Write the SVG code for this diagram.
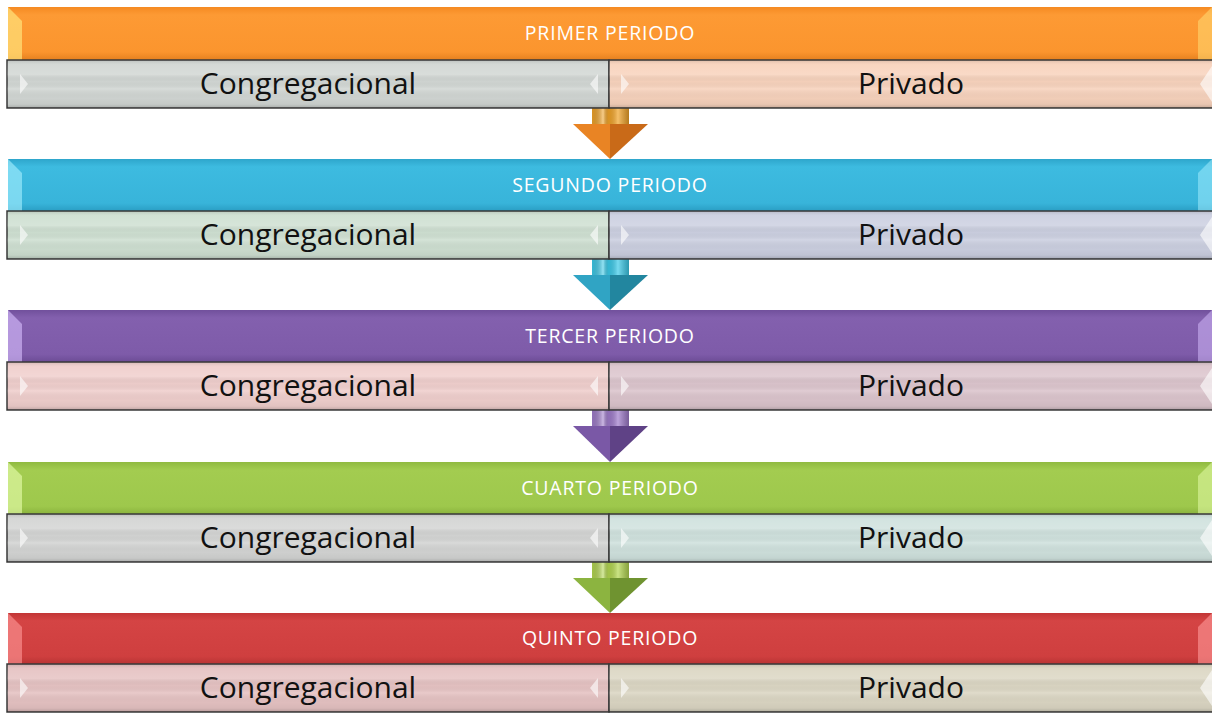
<svg xmlns="http://www.w3.org/2000/svg" width="1212" height="713" viewBox="0 0 1212 713">
<defs>
<linearGradient id="gOr" x1="0" y1="0" x2="0" y2="1"><stop offset="0" stop-color="#f58a22"/><stop offset="0.15" stop-color="#fd9a34"/><stop offset="0.85" stop-color="#fb952e"/><stop offset="1" stop-color="#e5801f"/></linearGradient>
<linearGradient id="gBl" x1="0" y1="0" x2="0" y2="1"><stop offset="0" stop-color="#2ea6cc"/><stop offset="0.15" stop-color="#3dbbe0"/><stop offset="0.85" stop-color="#38b4da"/><stop offset="1" stop-color="#2a9ec4"/></linearGradient>
<linearGradient id="gPu" x1="0" y1="0" x2="0" y2="1"><stop offset="0" stop-color="#71509c"/><stop offset="0.15" stop-color="#8360ae"/><stop offset="0.85" stop-color="#7e5ba9"/><stop offset="1" stop-color="#6c4c96"/></linearGradient>
<linearGradient id="gGr" x1="0" y1="0" x2="0" y2="1"><stop offset="0" stop-color="#90ba40"/><stop offset="0.15" stop-color="#a3cc50"/><stop offset="0.85" stop-color="#9ec84c"/><stop offset="1" stop-color="#8bb43e"/></linearGradient>
<linearGradient id="gRe" x1="0" y1="0" x2="0" y2="1"><stop offset="0" stop-color="#c23535"/><stop offset="0.15" stop-color="#d44444"/><stop offset="0.85" stop-color="#cf3f3f"/><stop offset="1" stop-color="#b93434"/></linearGradient>
<linearGradient id="stripe" x1="0" y1="0" x2="0" y2="1">
<stop offset="0" stop-color="#000" stop-opacity="0.12"/><stop offset="0.1" stop-color="#fff" stop-opacity="0.05"/>
<stop offset="0.3" stop-color="#fff" stop-opacity="0.15"/><stop offset="0.45" stop-color="#000" stop-opacity="0.02"/>
<stop offset="0.6" stop-color="#fff" stop-opacity="0.12"/><stop offset="0.8" stop-color="#000" stop-opacity="0.03"/>
<stop offset="0.92" stop-color="#000" stop-opacity="0.06"/><stop offset="1" stop-color="#000" stop-opacity="0.2"/></linearGradient>
<linearGradient id="shaft" x1="0" y1="0" x2="1" y2="0">
<stop offset="0" stop-color="#000" stop-opacity="0.1"/><stop offset="0.3" stop-color="#fff" stop-opacity="0.45"/><stop offset="0.45" stop-color="#000" stop-opacity="0.1"/><stop offset="0.7" stop-color="#fff" stop-opacity="0.3"/><stop offset="1" stop-color="#000" stop-opacity="0.25"/></linearGradient>
</defs>
<style>
.hdr{stroke:none}
.sub{stroke:#3a3a3a;stroke-width:1.5}
.ovl{fill:url(#stripe)}
.htxt{font-family:"Open Sans","Liberation Sans",sans-serif;font-size:19.5px;letter-spacing:0.8px;fill:#ffffff;text-anchor:middle}
.stxt{font-family:"Open Sans","Liberation Sans",sans-serif;font-size:30px;fill:#111111;text-anchor:middle}
.tri{fill:#ffffff;opacity:0.6}
</style>

<g id="connectors">
<g id="arrow1"><rect x="592" y="108" width="37" height="16" fill="#f2a428"/><rect x="592" y="108" width="37" height="16" fill="url(#shaft)"/><polygon points="573,124 610,124 610,159" fill="#e98424"/><polygon points="610,124 648,124 610,159" fill="#c96a18"/></g>
<g id="arrow2"><rect x="592" y="259" width="37" height="16" fill="#3ccbea"/><rect x="592" y="259" width="37" height="16" fill="url(#shaft)"/><polygon points="573,275 610,275 610,310" fill="#30a4c4"/><polygon points="610,275 648,275 610,310" fill="#22869f"/></g>
<g id="arrow3"><rect x="592" y="410" width="37" height="16" fill="#a07ccc"/><rect x="592" y="410" width="37" height="16" fill="url(#shaft)"/><polygon points="573,426 610,426 610,462" fill="#7a58a6"/><polygon points="610,426 648,426 610,462" fill="#5f4286"/></g>
<g id="arrow4"><rect x="592" y="562" width="37" height="16" fill="#b4d850"/><rect x="592" y="562" width="37" height="16" fill="url(#shaft)"/><polygon points="573,578 610,578 610,613" fill="#8cb440"/><polygon points="610,578 648,578 610,613" fill="#6f9330"/></g>
</g>

<g id="row1">
<g id="h1"><rect class="hdr" x="8" y="7" width="1206" height="53" fill="url(#gOr)"/><polygon points="8,7 22,21 22,60 8,60" fill="#ffe27a" opacity="0.7"/><polygon points="1212,7 1198,21 1198,60 1212,60" fill="#ffe27a" opacity="0.5"/><text class="htxt" x="610" y="40">PRIMER PERIODO</text></g>
<g id="c1"><rect class="sub" x="7" y="60" width="602" height="48" fill="#d2d7d4"/><rect class="ovl" x="7" y="60" width="602" height="48"/><polygon class="tri" points="20,74 28,84 20,94"/><polygon class="tri" points="598,74 590,84 598,94"/><text class="stxt" x="308" y="94">Congregacional</text></g>
<g id="p1"><rect class="sub" x="609" y="60" width="605" height="48" fill="#f8d3bd"/><rect class="ovl" x="609" y="60" width="605" height="48"/><polygon class="tri" points="621,74 629,84 621,94"/><polygon class="tri" points="1212,66 1200,84 1212,102"/><text class="stxt" x="911" y="94">Privado</text></g>
</g>

<g id="row2">
<g id="h2"><rect class="hdr" x="8" y="159" width="1206" height="52" fill="url(#gBl)"/><polygon points="8,159 22,173 22,211 8,211" fill="#a8f0ff" opacity="0.6"/><polygon points="1212,159 1198,173 1198,211 1212,211" fill="#a8f0ff" opacity="0.5"/><text class="htxt" x="610" y="192">SEGUNDO PERIODO</text></g>
<g id="c2"><rect class="sub" x="7" y="211" width="602" height="48" fill="#cfe0d2"/><rect class="ovl" x="7" y="211" width="602" height="48"/><polygon class="tri" points="20,225 28,235 20,245"/><polygon class="tri" points="598,225 590,235 598,245"/><text class="stxt" x="308" y="245">Congregacional</text></g>
<g id="p2"><rect class="sub" x="609" y="211" width="605" height="48" fill="#ccd0e1"/><rect class="ovl" x="609" y="211" width="605" height="48"/><polygon class="tri" points="621,225 629,235 621,245"/><polygon class="tri" points="1212,217 1200,235 1212,253"/><text class="stxt" x="911" y="245">Privado</text></g>
</g>

<g id="row3">
<g id="h3"><rect class="hdr" x="8" y="310" width="1206" height="52" fill="url(#gPu)"/><polygon points="8,310 22,324 22,362 8,362" fill="#d8c0ff" opacity="0.6"/><polygon points="1212,310 1198,324 1198,362 1212,362" fill="#d8c0ff" opacity="0.5"/><text class="htxt" x="610" y="343">TERCER PERIODO</text></g>
<g id="c3"><rect class="sub" x="7" y="362" width="602" height="48" fill="#f0cfcd"/><rect class="ovl" x="7" y="362" width="602" height="48"/><polygon class="tri" points="20,376 28,386 20,396"/><polygon class="tri" points="598,376 590,386 598,396"/><text class="stxt" x="308" y="396">Congregacional</text></g>
<g id="p3"><rect class="sub" x="609" y="362" width="605" height="48" fill="#dcc5cd"/><rect class="ovl" x="609" y="362" width="605" height="48"/><polygon class="tri" points="621,376 629,386 621,396"/><polygon class="tri" points="1212,368 1200,386 1212,404"/><text class="stxt" x="911" y="396">Privado</text></g>
</g>

<g id="row4">
<g id="h4"><rect class="hdr" x="8" y="462" width="1206" height="52" fill="url(#gGr)"/><polygon points="8,462 22,476 22,514 8,514" fill="#eaffb0" opacity="0.6"/><polygon points="1212,462 1198,476 1198,514 1212,514" fill="#eaffb0" opacity="0.5"/><text class="htxt" x="610" y="495">CUARTO PERIODO</text></g>
<g id="c4"><rect class="sub" x="7" y="514" width="602" height="48" fill="#d4d5d4"/><rect class="ovl" x="7" y="514" width="602" height="48"/><polygon class="tri" points="20,528 28,538 20,548"/><polygon class="tri" points="598,528 590,538 598,548"/><text class="stxt" x="308" y="548">Congregacional</text></g>
<g id="p4"><rect class="sub" x="609" y="514" width="605" height="48" fill="#d0e2de"/><rect class="ovl" x="609" y="514" width="605" height="48"/><polygon class="tri" points="621,528 629,538 621,548"/><polygon class="tri" points="1212,520 1200,538 1212,556"/><text class="stxt" x="911" y="548">Privado</text></g>
</g>

<g id="row5">
<g id="h5"><rect class="hdr" x="8" y="613" width="1206" height="51" fill="url(#gRe)"/><polygon points="8,613 22,627 22,664 8,664" fill="#ff9a9a" opacity="0.6"/><polygon points="1212,613 1198,627 1198,664 1212,664" fill="#ff9a9a" opacity="0.6"/><text class="htxt" x="610" y="645">QUINTO PERIODO</text></g>
<g id="c5"><rect class="sub" x="7" y="664" width="602" height="48" fill="#e6c3c3"/><rect class="ovl" x="7" y="664" width="602" height="48"/><polygon class="tri" points="20,678 28,688 20,698"/><polygon class="tri" points="598,678 590,688 598,698"/><text class="stxt" x="308" y="698">Congregacional</text></g>
<g id="p5"><rect class="sub" x="609" y="664" width="605" height="48" fill="#dcd7c4"/><rect class="ovl" x="609" y="664" width="605" height="48"/><polygon class="tri" points="621,678 629,688 621,698"/><polygon class="tri" points="1212,670 1200,688 1212,706"/><text class="stxt" x="911" y="698">Privado</text></g>
</g>
</svg>
